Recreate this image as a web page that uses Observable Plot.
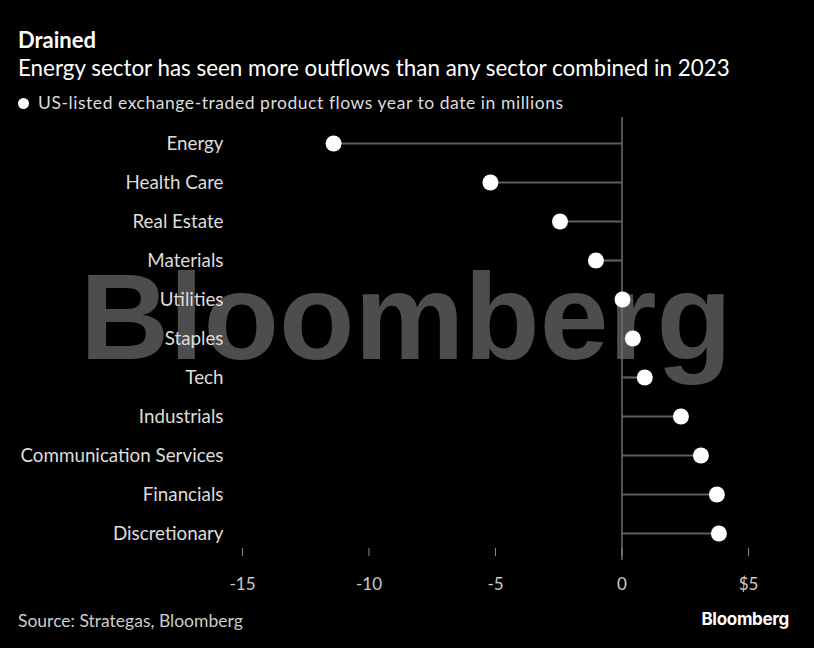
<!DOCTYPE html>
<html>
<head>
<meta charset="utf-8">
<script src="https://cdn.jsdelivr.net/npm/d3@7"></script>
<script src="https://cdn.jsdelivr.net/npm/@observablehq/plot@0.6"></script>
<style>
  html, body { margin: 0; padding: 0; background: #000; }
  #wrap { position: relative; width: 814px; height: 648px; background: #000; overflow: hidden; font-family: Lato, sans-serif; }
  .abs { position: absolute; white-space: nowrap; }
  #title { left: 18px; top: 29px; font-size: 22px; line-height: 22px; font-weight: 700; color: #fff; }
  #subtitle { left: 18px; top: 57px; font-size: 22.4px; line-height: 22.4px; color: #fff; }
  #legend { left: 18px; top: 94px; font-size: 17.5px; line-height: 17.5px; color: #ddd; letter-spacing: 0.55px; }
  #legend .dot { display: inline-block; width: 11px; height: 11px; border-radius: 50%; background: #fff; margin-right: 9px; vertical-align: 0px; }
  #source { left: 18px; top: 612px; font-size: 17.5px; line-height: 17.5px; color: #ccc; }
  #logo { right: 25px; top: 611px; font-family: Inter, sans-serif; font-weight: 700; font-size: 17px; line-height: 17px; color: #fff; letter-spacing: -0.3px; }
  #watermark { position: absolute; left: 0; top: 0; }
  #chart { position: absolute; left: 0; top: 117px; }
  #chart svg { display: block; }
</style>
</head>
<body>
<div id="wrap">
  <svg id="watermark" width="814" height="648">
    <text x="406" y="359" text-anchor="middle" font-family="Liberation Sans, Arial, sans-serif" font-weight="700" font-size="122" fill="#4d4d4d" textLength="652" lengthAdjust="spacingAndGlyphs">Bloomberg</text>
  </svg>
  <div id="title" class="abs">Drained</div>
  <div id="subtitle" class="abs">Energy sector has seen more outflows than any sector combined in 2023</div>
  <div id="legend" class="abs"><span class="dot"></span>US-listed exchange-traded product flows year to date in millions</div>
  <div id="chart"></div>
  <div id="source" class="abs">Source: Strategas, Bloomberg</div>
  <div id="logo" class="abs">Bloomberg</div>
</div>
<script>
const sectors = ["Energy", "Health Care", "Real Estate", "Materials", "Utilities", "Staples", "Tech", "Industrials", "Communication Services", "Financials", "Discretionary"];
const flows = [-11.4, -5.2, -2.45, -1.03, 0.02, 0.43, 0.9, 2.33, 3.12, 3.75, 3.83];
const xTicks = [-15, -10, -5, 0, 5];
const xTickLabels = ["-15", "-10", "-5", "0", "$5"];

const data = sectors.map((s, i) => ({sector: s, value: flows[i]}));

const chart = Plot.plot({
  width: 814,
  height: 483,
  marginTop: 0,
  marginLeft: 242,
  marginRight: 66,
  marginBottom: 52,
  style: {background: "transparent", color: "#ddd", fontFamily: "Lato, sans-serif", fontSize: "17px", overflow: "visible"},
  x: {domain: [-15, 5]},
  y: {type: "point", domain: sectors, padding: 0, insetTop: 23, insetBottom: 13},
  marks: [
    Plot.ruleX([0], {stroke: "#6e6e6e", strokeWidth: 1.5, insetBottom: -12}),
    Plot.ruleY(data, {y: "sector", x1: 0, x2: "value", stroke: "#5e5e5e", strokeWidth: 2.2}),
    Plot.dot(data, {x: "value", y: "sector", r: 8, fill: "#fff", stroke: "none"}),
    Plot.axisX({ticks: xTicks, tickFormat: d => xTickLabels[xTicks.indexOf(d)], tickSize: 8, tickPadding: 21, stroke: "#8a8a8a", fill: "#ccc", fontSize: 17, label: null}),
    Plot.axisY({tickSize: 0, tickPadding: 19, fill: "#ddd", fontSize: 18.8, label: null})
  ]
});
document.getElementById("chart").appendChild(chart);
</script>
</body>
</html>
